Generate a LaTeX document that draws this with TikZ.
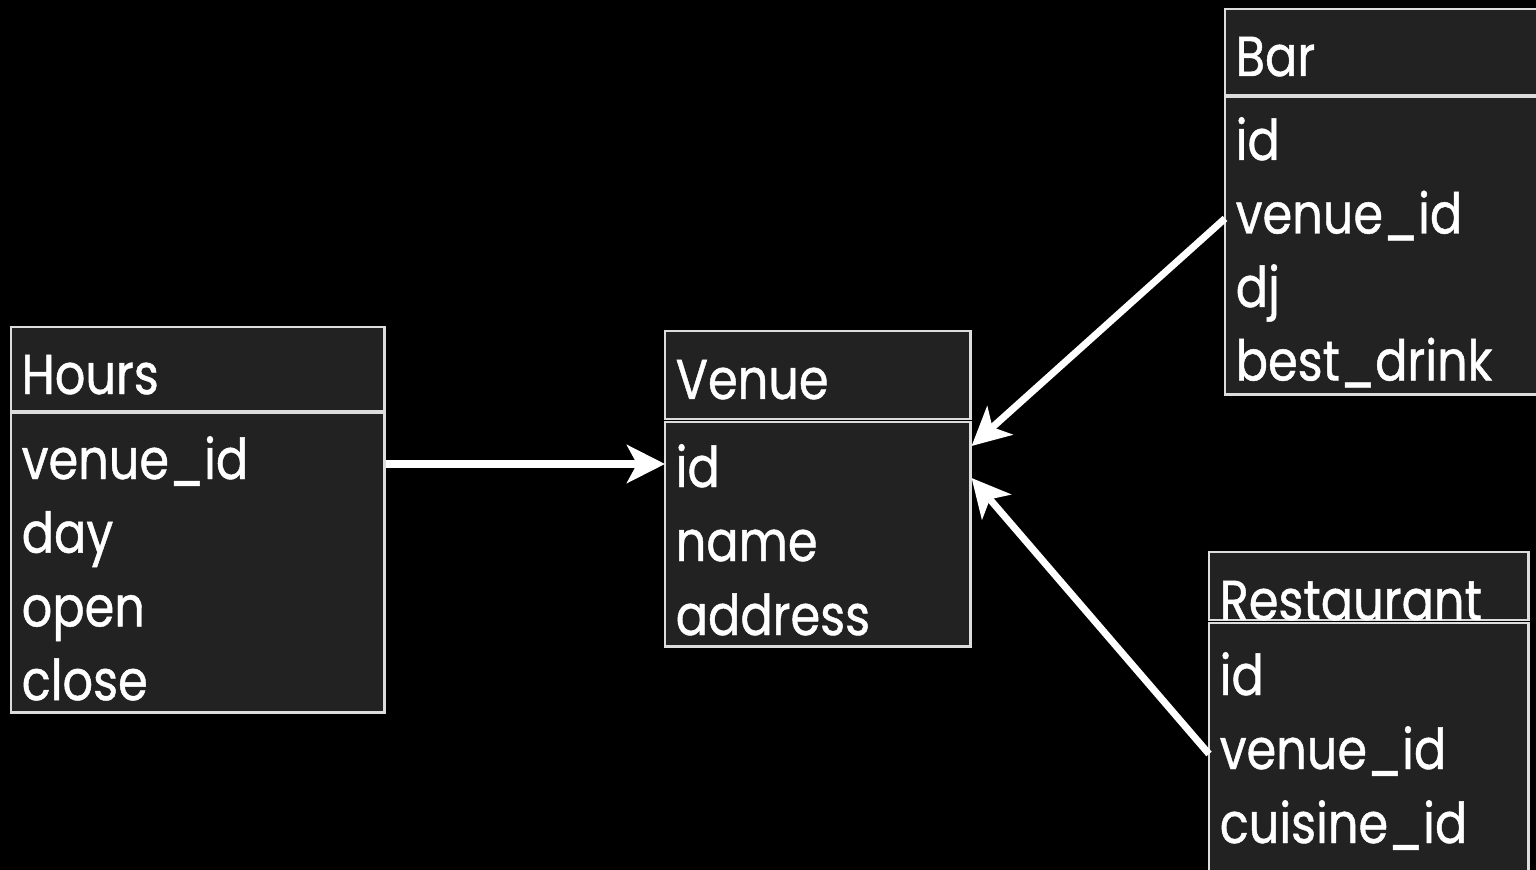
\documentclass[tikz,border=0pt]{standalone}
\usepackage{fontspec}
\setmainfont{Poppins}[FakeStretch=0.85, FakeBold=0.8]
\usetikzlibrary{arrows.meta}
\definecolor{cellgray}{HTML}{222222}
\definecolor{rulegray}{HTML}{DDDDDD}
\tikzset{
  tablebox/.style={draw=rulegray, fill=cellgray, line width=0.8pt, anchor=north west,
                   inner sep=0pt, outer sep=0pt},
  field/.style={anchor=base west, inner xsep=0.1cm, inner ysep=0pt, text=white,
                text height=0.52cm, text depth=0.22cm, align=left,
                font=\fontsize{16}{16}\selectfont},
  link/.style={draw=white, line width=2pt,
               -{Stealth[length=0.38cm,width=0.38cm,inset=0.1cm]}},
}
\begin{document}
\begin{tikzpicture}[x=0.01cm, y=-0.01cm]
  \fill[black] (0,0) rectangle (1536,870);
  \useasboundingbox (0,0) rectangle (1536,870);

  % Hours
  \node[tablebox, minimum width=3.73cm, minimum height=0.84cm] (hours-head) at (11,327) {};
  \node[tablebox, minimum width=3.73cm, minimum height=2.99cm] (hours-body) at (11,413) {};
  \node[field, text width=3.53cm] (hours-title) at (11,394) {Hours};
  \foreach \name/\text [count=\i] in {vid/venue\_id, day/day, open/open, close/close}
    \node[field, text width=3.53cm] (hours-\name) at (11,{479+73.7*(\i-1)}) {\text};

  % Venue
  \node[tablebox, minimum width=3.05cm, minimum height=0.88cm] (venue-head) at (665,331) {};
  \node[tablebox, minimum width=3.05cm, minimum height=2.24cm] (venue-body) at (665,422) {};
  \node[field, text width=2.85cm] (venue-title) at (665,399) {Venue};
  \foreach \name/\text [count=\i] in {id/id, name/name, address/address}
    \node[field, text width=2.85cm] (venue-\name) at (665,{487+74*(\i-1)}) {\text};

  % Bar
  \node[tablebox, minimum width=3.20cm, minimum height=0.86cm] (bar-head) at (1225,9) {};
  \node[tablebox, minimum width=3.20cm, minimum height=2.97cm] (bar-body) at (1225,97) {};
  \node[field, text width=3.00cm] (bar-title) at (1225,76) {Bar};
  \foreach \name/\text [count=\i] in {id/id, vid/venue\_id, dj/dj, drink/best\_drink}
    \node[field, text width=3.00cm] (bar-\name) at (1225,{160+73.5*(\i-1)}) {\text};

  % Restaurant
  \node[tablebox, minimum width=3.19cm, minimum height=0.68cm] (rest-head) at (1209,552) {};
  \node[tablebox, minimum width=3.19cm, minimum height=2.57cm] (rest-body) at (1209,623) {};
  \node[field, text width=2.99cm] (rest-title) at (1209,620) {Restaurant};
  \foreach \name/\text [count=\i] in {id/id, vid/venue\_id, cuisine/cuisine\_id}
    \node[field, text width=2.99cm] (rest-\name) at (1209,{695+74*(\i-1)}) {\text};

  % links
  \draw[link] (hours-vid.east) -- (hours-vid.east -| venue-id.west);
  \draw[link] (bar-vid.west) -- ([yshift=0.26cm]venue-id.east);
  \draw[link] (rest-vid.west) -- ([yshift=-0.06cm]venue-id.east);
\end{tikzpicture}
\end{document}
